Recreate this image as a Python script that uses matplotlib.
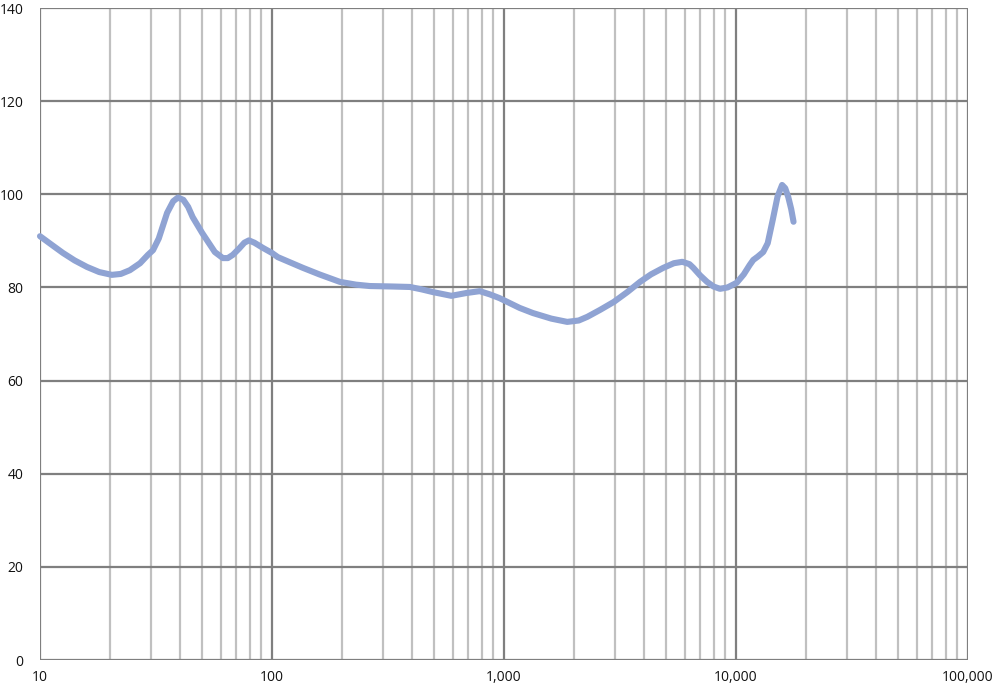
import matplotlib
matplotlib.use("Agg")
import matplotlib.pyplot as plt
from matplotlib.ticker import FixedLocator, FuncFormatter, LogLocator, NullFormatter

freq = [10, 11.2, 12.56, 14.1, 15.94, 18, 20.4, 22.3, 24.4, 27.0, 29.2, 30.7,
        32.5, 35.3, 37.5, 39.3, 41.5, 43.5, 45.5, 50, 53, 56.7, 61.4, 64.5,
        67.8, 72, 76, 79.5, 84, 91.3, 100, 106, 136, 160, 196, 230, 264, 330,
        393, 440, 494, 593, 688, 786, 870, 957, 1168, 1332, 1600, 1873, 2100,
        2289, 2600, 2976, 3400, 3860, 4300, 4857, 5400, 5870, 6300, 6550, 7000,
        7500, 8000, 8530, 9200, 10070, 10800, 11450, 11870, 12400, 13100,
        13700, 14400, 15100, 15800, 16300, 16800, 17300, 17700]
level = [91.0, 89.2, 87.4, 85.8, 84.4, 83.3, 82.7, 82.9, 83.7, 85.2, 87.0, 88.0,
         90.5, 96.0, 98.5, 99.3, 98.8, 97.3, 95.1, 91.7, 89.8, 87.6, 86.3, 86.3,
         87.0, 88.3, 89.6, 90.1, 89.6, 88.5, 87.4, 86.5, 84.2, 82.8, 81.2, 80.6, 80.3, 80.2,
         80.1, 79.6, 79.0, 78.2, 78.8, 79.2, 78.5, 77.7, 75.6, 74.5, 73.3, 72.6, 72.9,
         73.7, 75.2, 76.9, 79.0, 81.2, 82.8, 84.2, 85.2, 85.5, 85.0, 84.2, 82.6,
         81.2, 80.2, 79.7, 80.0, 81.0, 82.8, 84.8, 85.9, 86.6, 87.6,
         89.5, 94.5, 99.5, 102.0, 101.3, 99.4, 96.8, 94.1]

x_ticks = [10, 100, 1000, 10000, 100000]
y_ticks = [0, 20, 40, 60, 80, 100, 120, 140]

plt.rcParams['font.family'] = ['Open Sans', 'DejaVu Sans']

fig = plt.figure(figsize=(10.02, 6.89), dpi=100)
ax = fig.add_axes([40/1002, 29/689, 928/1002, 652/689])

ax.set_xscale('log')
ax.set_xlim(10, 100000)
ax.set_ylim(0, 140)

ax.xaxis.set_major_locator(FixedLocator(x_ticks))
ax.xaxis.set_major_formatter(FuncFormatter(lambda v, p: f"{int(round(v)):,}"))
ax.xaxis.set_minor_locator(LogLocator(base=10, subs=range(2, 10)))
ax.xaxis.set_minor_formatter(NullFormatter())
ax.yaxis.set_major_locator(FixedLocator(y_ticks))

ax.grid(True, which='major', color='#7f7f7f', linewidth=1.6)
ax.grid(True, which='minor', axis='x', color='#c0c0c0', linewidth=1.6)
ax.set_axisbelow(True)

for s in ax.spines.values():
    s.set_visible(False)

ax.tick_params(which='both', length=0)
ax.tick_params(axis='y', pad=12, labelsize=10, colors='#111111')
ax.tick_params(axis='x', pad=7, labelsize=10, colors='#111111')

ax.plot(freq, level, color='#8fa3d3', linewidth=4.4, solid_joinstyle='round',
        solid_capstyle='round', clip_on=False, zorder=3)

fig.savefig('out.png', dpi=100)
